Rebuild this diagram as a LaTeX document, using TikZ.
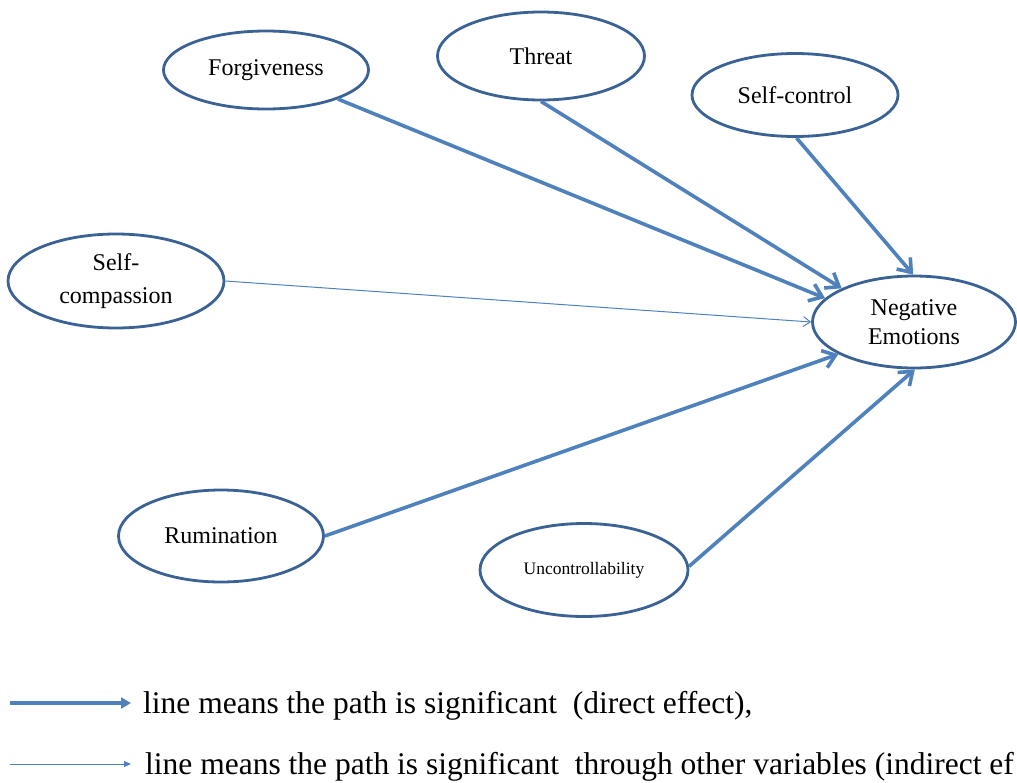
\documentclass[tikz,border=0pt]{standalone}
\usepackage{fontspec}
\setmainfont{Liberation Serif}
\usetikzlibrary{arrows.meta,shapes.geometric}
\definecolor{rimblue}{HTML}{3B6294}
\definecolor{pathblue}{HTML}{4F81BD}

\begin{document}
\begin{tikzpicture}[x=1pt,y=-1pt,
  var/.style={ellipse, draw=rimblue, line width=2.8pt, inner sep=0pt,
    align=center, text=black, font=\fontsize{24}{29}\selectfont},
  direct/.style={draw=pathblue, line width=3.6pt,
    -{Straight Barb[length=12pt,width=18pt]}},
  indirect/.style={draw=pathblue, line width=1pt,
    -{Straight Barb[length=7pt,width=10pt]}},
  keydirect/.style={draw=pathblue, line width=3.6pt,
    -{Triangle[length=10pt,width=11pt]}},
  keyindirect/.style={draw=pathblue, line width=1pt,
    -{Triangle[length=7pt,width=6pt]}},
  keytext/.style={anchor=base west, inner sep=0pt,
    font=\fontsize{31.5}{32}\selectfont}]
\useasboundingbox (0,0) rectangle (1017,782);
\clip (0,0) rectangle (1017,782);

% predictor variables
\node[var, minimum width=205pt, minimum height=78pt] (forg) at (266,70) {Forgiveness};
\node[var, minimum width=207pt, minimum height=88pt] (threat) at (541,56) {Threat};
\node[var, minimum width=206pt, minimum height=83pt] (sctrl) at (795,95) {Self-control};
\node[var, minimum width=216pt, minimum height=94pt,
      font=\fontsize{24}{33}\selectfont] (scomp) at (116,281) {Self-\\compassion};
\node[var, minimum width=205pt, minimum height=92pt] (rum) at (221,536) {Rumination};
\node[var, minimum width=208pt, minimum height=93pt,
      font=\fontsize{17.5}{20}\selectfont] (unc) at (584,570) {Uncontrollability};

% outcome
\node[var, minimum width=203pt, minimum height=92pt] (neg) at (914,322) {Negative\\Emotions};

% paths
\draw[direct] (forg.338) -- (neg.165);
\draw[direct] (threat.270) -- (neg.155);
\draw[direct] (sctrl.272) -- (neg.91);
\draw[indirect] (scomp.0) -- (neg.180);
\draw[direct] (rum.0) -- (neg.203);
\draw[direct] (unc.2) -- (neg.271);

% key
\coordinate (k1s) at (10,703);
\coordinate (k1e) at (131,703);
\coordinate (k2s) at (10,764);
\coordinate (k2e) at (131,764);
\draw[keydirect] (k1s) -- (k1e);
\draw[keyindirect] (k2s) -- (k2e);
\node[keytext] (k1t) at (143,713) {line means the path is significant \ (direct effect),};
\node[keytext] (k2t) at (145,774) {line means the path is significant \ through other variables (indirect ef};
\end{tikzpicture}
\end{document}
